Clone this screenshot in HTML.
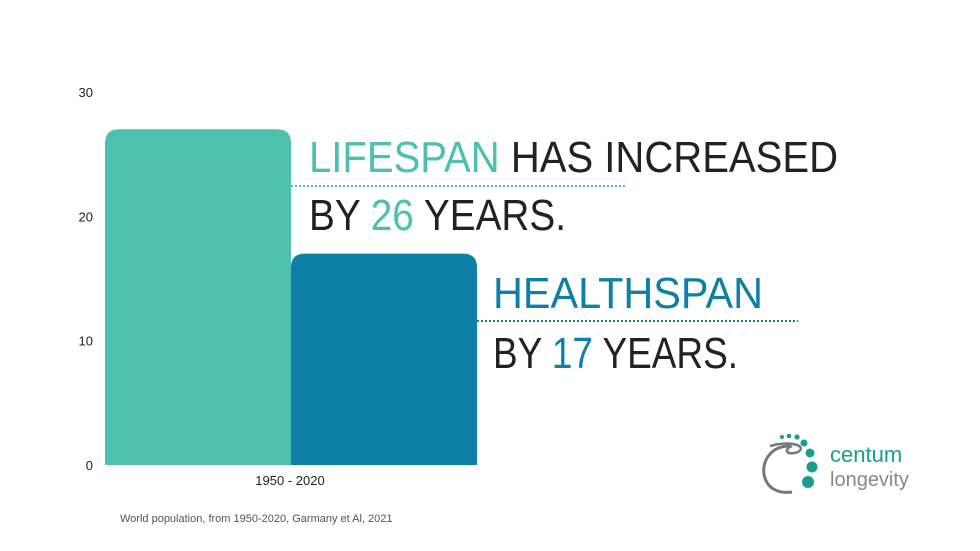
<!DOCTYPE html>
<html><head><meta charset="utf-8"><style>
body{margin:0;background:#fff;}
svg{display:block;font-family:"Liberation Sans",sans-serif;}
</style></head><body>
<svg id="c" width="980" height="551" viewBox="0 0 980 551">
<rect width="980" height="551" fill="#fff"/>
<g id="axis"></g>
<g id="bars"></g>
<text x="290" y="485" font-size="13" text-anchor="middle" fill="#222">1950 - 2020</text>
<text x="120" y="522" font-size="11" fill="#555">World population, from 1950-2020, Garmany et Al, 2021</text>
<g font-weight="300" font-size="44" fill="#222">
<text x="309" y="172" textLength="529" lengthAdjust="spacingAndGlyphs"><tspan fill="#4dc1ad">LIFESPAN</tspan> HAS INCREASED</text>
<line x1="291" y1="186" x2="625" y2="186" stroke="#4dc1ad" stroke-width="2" stroke-dasharray="2,2"/>
<text x="309" y="230" textLength="257" lengthAdjust="spacingAndGlyphs">BY <tspan fill="#4dc1ad">26</tspan> YEARS.</text>
<text x="493" y="308" textLength="270" lengthAdjust="spacingAndGlyphs" fill="#0e7fa6">HEALTHSPAN</text>
<line x1="477" y1="321" x2="798" y2="321" stroke="#0e7fa6" stroke-width="2" stroke-dasharray="2,2"/>
<text x="493" y="368" textLength="245" lengthAdjust="spacingAndGlyphs">BY <tspan fill="#0e7fa6">17</tspan> YEARS.</text>
</g>
<g>
<path d="M790,446 C770,446 762,462 764,474 C766,488 778,494 792,492" fill="none" stroke="#777" stroke-width="3"/>
<path d="M770,446 C790,440 808,446 798,452 C788,456 782,450 792,446" fill="none" stroke="#777" stroke-width="2.5"/>
<circle cx="782" cy="437" r="2" fill="#1a9e8c"/><circle cx="789" cy="436" r="2.3" fill="#1a9e8c"/><circle cx="797" cy="437" r="2.6" fill="#1a9e8c"/>
<circle cx="804" cy="443" r="3.5" fill="#1a9e8c"/><circle cx="810" cy="453" r="4.5" fill="#1a9e8c"/><circle cx="812" cy="467" r="5.5" fill="#1a9e8c"/><circle cx="808" cy="482" r="6" fill="#1a9e8c"/>
<text x="830" y="462" font-size="22" fill="#1a9e8c">centum</text>
<text x="830" y="486" font-size="20" font-weight="300" fill="#888">longevity</text>
</g>
</svg>
<script>
const categories = ["Lifespan", "Healthspan"];
const values = [27, 17];
const yTicks = [0, 10, 20, 30];
const NS = "http://www.w3.org/2000/svg";
const y0 = 465, yTop = 92, yMax = 30;
function y(v){ return y0 - (y0 - yTop) * v / yMax; }
const colors = ["#4dc1ad", "#0e7fa6"];
const barX0 = 105, barW = 186;
const axis = document.getElementById('axis');
yTicks.forEach(t => {
  const el = document.createElementNS(NS, 'text');
  el.setAttribute('x', 93); el.setAttribute('y', y(t) + 5);
  el.setAttribute('text-anchor', 'end'); el.setAttribute('font-size', '13'); el.setAttribute('fill', '#222');
  el.textContent = t;
  
  
  axis.appendChild(el);
});
const bars = document.getElementById('bars');
values.forEach((v, i) => {
  const x = barX0 + i * barW, top = y(v), r = 14;
  const p = document.createElementNS(NS, 'path');
  p.setAttribute('d', `M${x},${y0} L${x},${top + r} Q${x},${top} ${x + r},${top} L${x + barW - r},${top} Q${x + barW},${top} ${x + barW},${top + r} L${x + barW},${y0} Z`);
  p.setAttribute('fill', colors[i]);
  
  
  bars.appendChild(p);
});
</script>
</body></html>
